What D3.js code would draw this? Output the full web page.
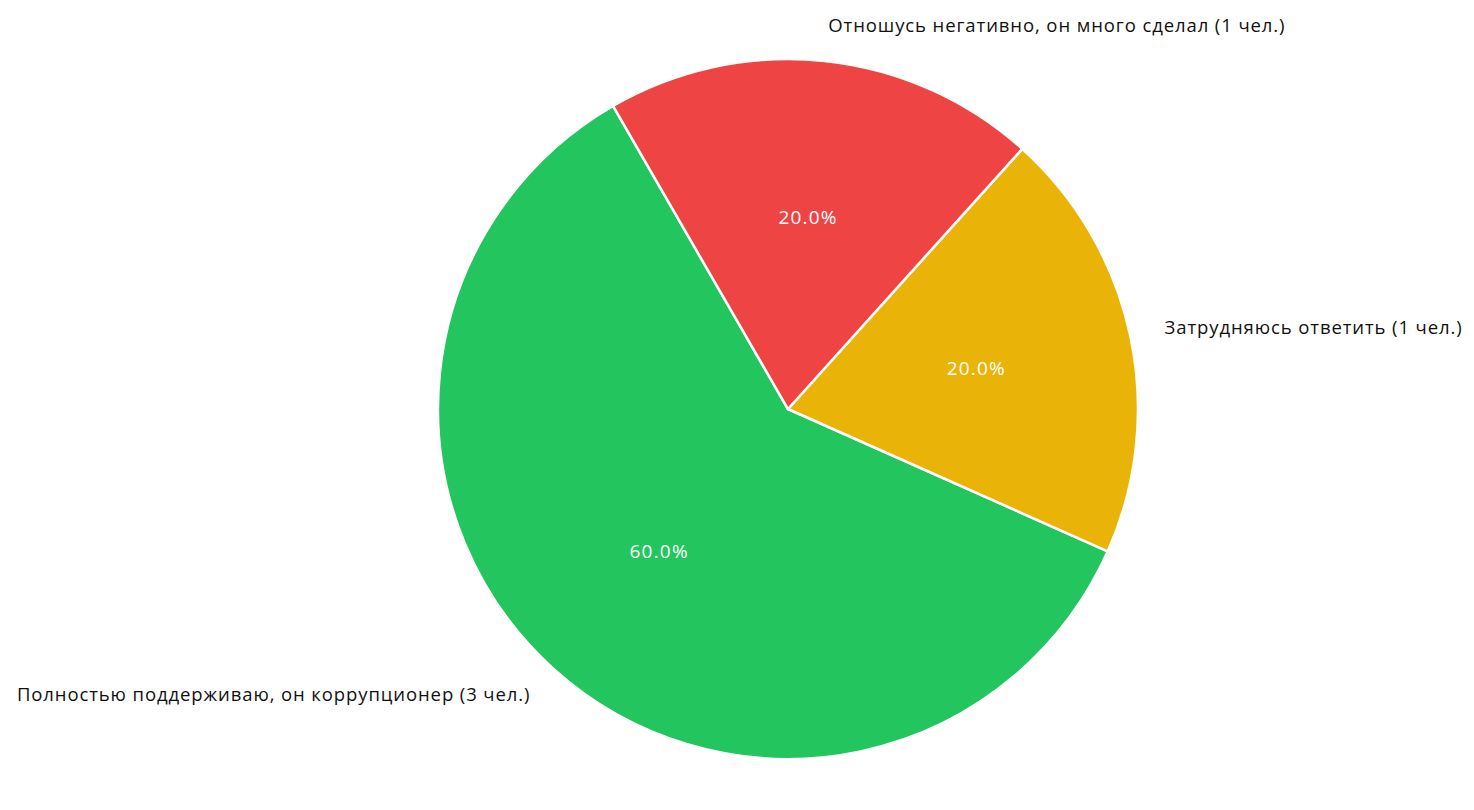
<!DOCTYPE html>
<html><head><meta charset="utf-8">
<script src="https://cdn.jsdelivr.net/npm/d3@7"></script>
<style>body{margin:0;background:#fff;} svg{display:block;}</style>
</head><body>
<svg id="chart" width="1474" height="810"></svg>
<script>
const categories = [
  "Полностью поддерживаю, он коррупционер (3 чел.)",
  "Затрудняюсь ответить (1 чел.)",
  "Отношусь негативно, он много сделал (1 чел.)"
];
const values = [3, 1, 1];
const colors = ["#22c55e", "#eab308", "#ef4444"];

const svg = d3.select("#chart");
const cx = 788, cy = 409, r = 350;
const g = svg.append("g").attr("transform", `translate(${cx},${cy})`);

const startDeg = 120; // matplotlib-style start angle, counterclockwise
const total = d3.sum(values);
const pie = d3.pie().sort(null).value(d => d)
  .startAngle((90 - startDeg) * Math.PI / 180)
  .endAngle((90 - startDeg - 360) * Math.PI / 180);
const arcs = pie(values);
const arc = d3.arc().innerRadius(0).outerRadius(r);

g.selectAll("path").data(arcs).enter().append("path")
  .attr("d", arc)
  .attr("fill", (d, i) => colors[i])
  .attr("stroke", "#fff")
  .attr("stroke-width", 2.5)
  .attr("stroke-linejoin", "round");

const font = "'Open Sans', Roboto, sans-serif";
arcs.forEach((d, i) => {
  const mid = (d.startAngle + d.endAngle) / 2;
  const sx = Math.sin(mid), sy = -Math.cos(mid);
  const lx = sx * r * 1.1, ly = sy * r * 1.1;
  g.append("text")
    .attr("x", lx).attr("y", ly - 2)
    .attr("text-anchor", sx > 0 ? "start" : "end")
    .attr("dominant-baseline", "central")
    .attr("font-family", font).attr("font-size", 18.5).attr("fill", "#111")
    .attr("letter-spacing", 0.9)
    .text(categories[i]);
  const px = sx * r * 0.55, py = sy * r * 0.55;
  g.append("text")
    .attr("x", px).attr("y", py - 1)
    .attr("text-anchor", "middle")
    .attr("dominant-baseline", "central")
    .attr("font-family", font).attr("font-size", 19).attr("fill", "#fff")
    .attr("letter-spacing", 1.2)
    .text((values[i] / total * 100).toFixed(1) + "%");
});
</script>
</body></html>
